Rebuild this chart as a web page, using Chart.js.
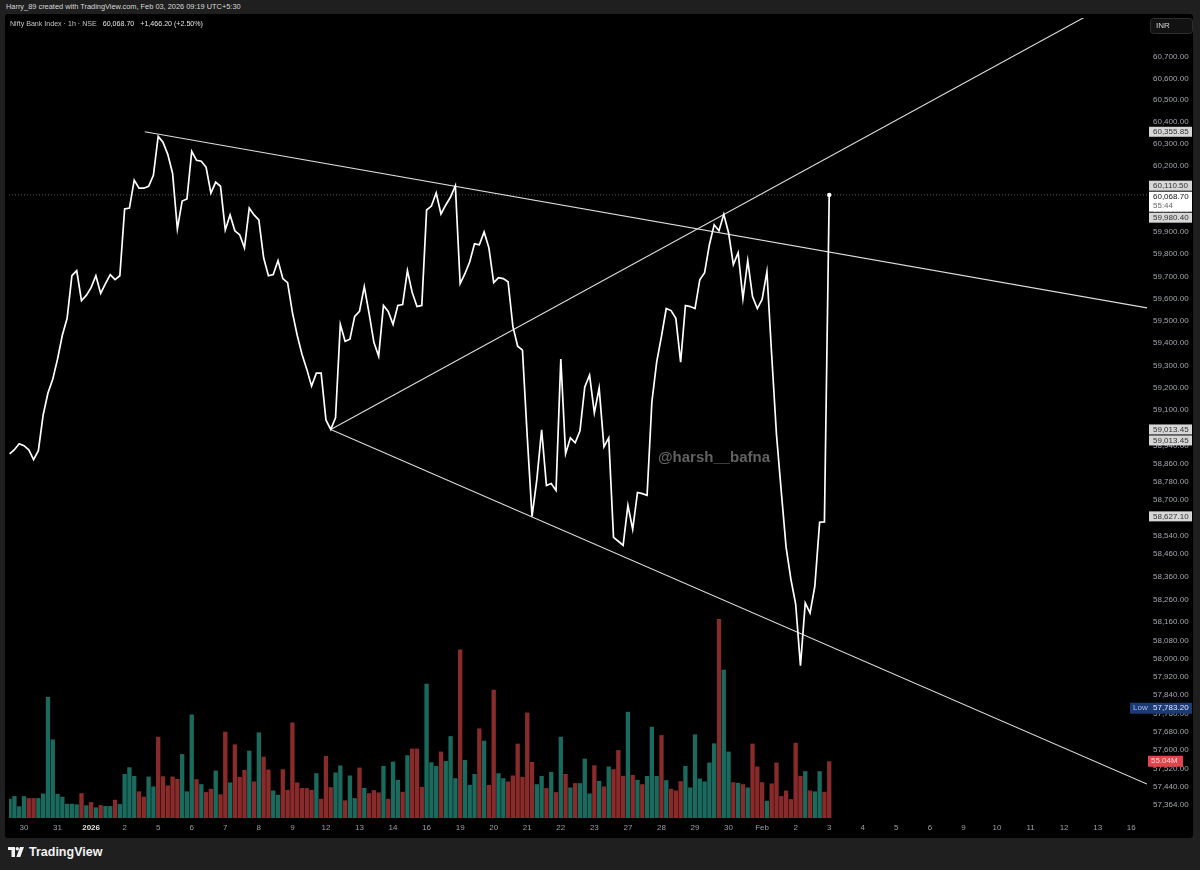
<!DOCTYPE html>
<html lang="en">
<head>
<meta charset="UTF-8">
<title>Nifty Bank Index · 1h · NSE</title>
<style>
  body {
    margin: 0;
    width: 1200px;
    height: 870px;
    background: #1f1f1f;
    font-family: "Liberation Sans", Arial, sans-serif;
    position: relative;
    overflow: hidden;
  }
  .credit {
    position: absolute; left: 6px; top: 2px;
    font-size: 7.4px; color: #d8d8d8; white-space: nowrap;
  }
  .panel {
    position: absolute; left: 5px; top: 14px;
    width: 1188px; height: 824px;
    background: #000; border-radius: 3px; overflow: hidden;
  }
  .legend {
    position: absolute; left: 10px; top: 20px;
    font-size: 7.1px; color: #c4c4c4; white-space: nowrap;
  }
  .legend b { font-weight: normal; color: #e6e6e6; margin-left: 4px; }
  .brand {
    position: absolute; left: 8px; top: 845px;
    display: flex; align-items: center; gap: 5px;
    color: #f2f2f2; font-size: 12.5px; font-weight: bold;
  }
</style>
</head>
<body>

<div class="credit">Harry_89 created with TradingView.com, Feb 03, 2026 09:19 UTC+5:30</div>

<div class="panel">
  <canvas id="chart" width="1188" height="824"></canvas>
</div>

<div class="legend">Nifty Bank Index · 1h · NSE <b>60,068.70</b> <b>+1,466.20 (+2.50%)</b></div>

<div class="brand">
  <svg width="16" height="10" viewBox="0 0 16 10">
    <rect x="0" y="0" width="7" height="3" fill="#f2f2f2"/>
    <rect x="3.5" y="0" width="3.5" height="10" fill="#f2f2f2"/>
    <circle cx="9.3" cy="1.7" r="1.7" fill="#f2f2f2"/>
    <polygon points="12,0 16,0 12.3,10 8.3,10" fill="#f2f2f2"/>
  </svg>
  <span>TradingView</span>
</div>

<script src="https://cdn.jsdelivr.net/npm/chart.js"></script>
<script>
    // hourly closes, Dec 29 (last 3 bars) .. Feb 3 (first bar)
    const closes = [
        58905, 58923, 58950, 58941, 58923, 58879, 58919, 59078, 59176, 59238,
        59328, 59435, 59511, 59703, 59726, 59591, 59614, 59649, 59703, 59623,
        59667, 59708, 59685, 59703, 60005, 60009, 60136, 60099, 60099, 60108,
        60158, 60335, 60308, 60253, 60167, 59915, 60041, 60050, 60267, 60226,
        60222, 60194, 60077, 60127, 60108, 59910, 59978, 59906, 59888, 59829,
        60009, 59978, 59955, 59784, 59703, 59708, 59771, 59690, 59672, 59538,
        59435, 59350, 59283, 59207, 59265, 59265, 59056, 59013.45, 59065, 59484,
        59408, 59417, 59520, 59542, 59654, 59533, 59403, 59341, 59569, 59542,
        59484, 59569, 59573, 59726, 59627, 59564, 59569, 60000, 60018, 60077,
        59982, 60023, 60059, 60110.5, 59667, 59712, 59766, 59847, 59843, 59901,
        59829, 59672, 59694, 59690, 59676, 59475, 59386, 59368, 58981, 58627.1,
        58790, 59012, 58764, 58773, 58742, 59328, 58905, 58976, 58954, 59007,
        59203, 59256, 59087, 59198, 58936, 58976, 58534, 58517, 58499, 58676,
        58570, 58733, 58728, 58720, 59136, 59314, 59430, 59555, 59546, 59511,
        59314, 59569, 59564, 59555, 59685, 59717, 59843, 59933, 59906, 59980.4,
        59897, 59753, 59807, 59600, 59771, 59609, 59555, 59596, 59721, 59345,
        58990, 58737, 58491, 58350, 58240, 57969, 58245, 58201, 58319, 58601,
        58602.5, 60068.7
    ];

    // volume in millions
    const volumes = [
        18.6, 21.2, 11.3, 21.2, 19.3, 19.3, 19.3, 23.8, 117.4, 76.2,
        23.4, 20.6, 13.8, 13.8, 13.2, 24.1, 12.3, 15.4, 10.3, 12.5,
        11.6, 11.6, 17.7, 13.5, 42.7, 49.2, 40.8, 25.8, 20.6, 40.2,
        30.6, 78.8, 40.5, 31.6, 40.2, 37.9, 62.0, 25.8, 100.4, 37.6,
        32.8, 25.1, 28.3, 46.0, 22.9, 83.7, 34.5, 71.4, 39.9, 46.6,
        65.3, 35.4, 83.0, 59.5, 47.0, 26.7, 22.5, 47.3, 27.3, 92.6,
        34.5, 29.0, 29.0, 27.3, 43.4, 18.6, 60.1, 29.9, 44.1, 50.9,
        17.1, 41.2, 19.3, 48.9, 29.2, 24.1, 27.0, 24.8, 50.5, 18.6,
        54.7, 37.0, 25.4, 60.8, 67.3, 67.3, 30.2, 130.3, 54.0, 50.5,
        64.4, 55.3, 79.4, 38.6, 163.4, 56.3, 32.1, 42.7, 86.9, 75.0,
        32.1, 124.5, 43.4, 38.6, 35.4, 41.2, 72.1, 39.9, 102.3, 54.3,
        32.8, 40.8, 29.0, 44.7, 25.1, 78.8, 42.7, 29.6, 33.8, 33.8,
        57.6, 23.8, 51.1, 36.0, 30.6, 49.9, 47.3, 65.9, 40.8, 103.0,
        41.8, 37.0, 32.8, 40.8, 88.5, 40.8, 80.4, 36.7, 28.3, 26.7,
        35.7, 50.5, 29.6, 81.1, 38.3, 35.4, 53.8, 72.4, 193.0, 143.8,
        64.4, 34.7, 34.1, 32.8, 29.6, 72.1, 49.9, 34.7, 16.7, 33.5,
        53.8, 21.2, 26.7, 18.3, 73.0, 40.8, 45.4, 26.7, 25.8, 45.4,
        25.4, 55.04
    ];

    // 1 = up candle (teal), 0 = down candle (red)
    const volumeUp = [
        1, 1, 1, 1, 0, 0, 1, 1, 1, 1,
        1, 1, 1, 1, 1, 0, 1, 0, 1, 0,
        1, 1, 0, 1, 1, 1, 1, 0, 0, 1,
        1, 0, 0, 0, 0, 0, 1, 1, 1, 0,
        1, 0, 0, 1, 0, 0, 1, 0, 0, 0,
        1, 0, 1, 0, 0, 1, 1, 0, 0, 0,
        0, 0, 0, 0, 1, 0, 0, 0, 1, 1,
        0, 1, 1, 0, 1, 0, 0, 0, 1, 0,
        1, 1, 0, 1, 0, 0, 0, 1, 1, 1,
        0, 1, 1, 1, 0, 1, 1, 1, 0, 1,
        0, 0, 1, 1, 0, 0, 0, 0, 0, 0,
        1, 1, 0, 1, 0, 1, 0, 1, 0, 1,
        1, 1, 0, 1, 0, 1, 0, 0, 0, 1,
        0, 1, 0, 1, 1, 1, 0, 1, 0, 0,
        0, 1, 1, 1, 1, 1, 1, 1, 0, 1,
        1, 0, 1, 0, 1, 0, 0, 0, 1, 0,
        0, 0, 0, 0, 0, 0, 1, 0, 1, 1,
        0, 0
    ];

    // day labels on the time axis (first bar of each session, 7 bars a day)
    const dayLabels = ['30', '31', '2026', '2', '5', '6', '7', '8', '9', '12', '13', '14', '16',
        '19', '20', '21', '22', '23', '27', '28', '29', '30', 'Feb', '2', '3',
        '4', '5', '6', '9', '10', '11', '12', '13', '16'];

    const priceTicks = [60700, 60600, 60500, 60400, 60300, 60200, 60100, 60000, 59900, 59800,
        59700, 59600, 59500, 59400, 59300, 59200, 59100, 58940, 58860, 58780, 58700,
        58540, 58460, 58360, 58260, 58160, 58080, 58000, 57920, 57840, 57760, 57680,
        57600, 57520, 57440, 57364];

    // drawn trend lines: [bar index, price]
    const upperLine = [[28.2, 60355.85], [237.3, 59558]];
    const lowerLine = [[67, 59013.45], [237.3, 57453]];
    const risingLine = [[67, 59013.45], [237.3, 61038]];

    const lastPrice = 60068.70;
    const countdown = '55:44';
    const axisTags = [60355.85, 60110.50, 59980.40, 59013.45, 59013.45, 58627.10];
    const lowPrice = 57783.20;
    const lastVolumeText = '55.04M';

    const X_MIN = -0.125, X_MAX = 237.3;
    const UP = '#1a6a5e', DOWN = '#8a2b2b';
    const FONT = '"Liberation Sans", Arial, sans-serif';

    const fmt = v => v.toLocaleString('en-US', {minimumFractionDigits: 2, maximumFractionDigits: 2});
    const seg = pts => pts.map(p => ({x: p[0], y: p[1]}));

    const overlay = {
        id: 'overlay',
        beforeDatasetsDraw(chart) {
            const ctx = chart.ctx;
            ctx.save();
            ctx.font = 'bold 15px ' + FONT;
            ctx.fillStyle = '#626262';
            ctx.textAlign = 'center';
            ctx.textBaseline = 'middle';
            ctx.fillText('@harsh__bafna', 709, 444);
            ctx.restore();
        },
        afterDraw(chart) {
            const ctx = chart.ctx;
            const y = chart.scales.y;
            const yv = chart.scales.yVol;
            const left = 1144, w = 43;
            ctx.save();
            ctx.font = '8px ' + FONT;
            ctx.textBaseline = 'middle';
            ctx.textAlign = 'left';

            // INR button
            ctx.fillStyle = '#121212';
            ctx.strokeStyle = '#2e2e2e';
            ctx.beginPath();
            ctx.roundRect(1145.5, 4.5, 42, 15, 3);
            ctx.fill();
            ctx.stroke();
            ctx.fillStyle = '#d6d6d6';
            ctx.fillText('INR', 1151, 12);

            // price tags, pushed down when they collide
            const tags = axisTags.map(v => ({v, h: 10, last: false}));
            tags.push({v: lastPrice, h: 20, last: true});
            tags.sort((a, b) => b.v - a.v);
            let prevBottom = -100;
            tags.forEach(t => {
                const py = y.getPixelForValue(t.v);
                let top = Math.max(py - 5, prevBottom + 1);
                if (t.last) {
                    ctx.fillStyle = '#ffffff';
                    ctx.fillRect(left, top, w, t.h);
                    ctx.fillStyle = '#111';
                    ctx.fillText(fmt(t.v), left + 4, top + 5.5);
                    ctx.fillStyle = '#666';
                    ctx.fillText(countdown, left + 4, top + 14.5);
                } else {
                    ctx.fillStyle = '#d6d6d6';
                    ctx.fillRect(left, top, w, t.h);
                    ctx.fillStyle = '#333';
                    ctx.fillText(fmt(t.v), left + 4, top + 5.5);
                }
                prevBottom = top + t.h;
            });

            // session low
            const ly = y.getPixelForValue(lowPrice);
            ctx.fillStyle = '#1c3a74';
            ctx.fillRect(1125, ly - 5.5, 62, 11);
            ctx.fillStyle = '#a9bbe6';
            ctx.fillText('Low', 1128, ly);
            ctx.fillStyle = '#dbe4fb';
            ctx.fillText(fmt(lowPrice), left + 4, ly);

            // last volume
            const vy = yv.getPixelForValue(volumes[volumes.length - 1]);
            ctx.fillStyle = '#e3434b';
            ctx.fillRect(left - 1, vy - 5.5, 35, 11);
            ctx.fillStyle = '#ffd6d8';
            ctx.fillText(lastVolumeText, left + 2, vy);
            ctx.restore();
        }
    };

    const config = {
        type: 'line',
        data: {
            datasets: [
                {
                    data: seg(upperLine),
                    borderColor: '#dcdcdc', borderWidth: 1.1, pointRadius: 0, order: 2
                },
                {
                    data: seg(lowerLine),
                    borderColor: '#dcdcdc', borderWidth: 1.1, pointRadius: 0, order: 2
                },
                {
                    data: seg(risingLine),
                    borderColor: '#dcdcdc', borderWidth: 1.1, pointRadius: 0, order: 2
                },
                {
                    data: [{x: X_MIN, y: lastPrice}, {x: X_MAX, y: lastPrice}],
                    borderColor: 'rgba(255,255,255,0.35)', borderWidth: 1,
                    borderDash: [1, 2], pointRadius: 0, order: 3
                },
                {
                    data: closes.map((c, i) => ({x: i, y: c})),
                    borderColor: '#ffffff', borderWidth: 1.7, tension: 0,
                    pointRadius: ctx => ctx.dataIndex === closes.length - 1 ? 2.2 : 0,
                    pointBackgroundColor: '#ffffff', pointBorderWidth: 0,
                    order: 1
                },
                {
                    type: 'bar',
                    yAxisID: 'yVol',
                    data: volumes.map((v, i) => ({x: i, y: v})),
                    backgroundColor: volumeUp.map(u => u ? UP : DOWN),
                    borderWidth: 0,
                    barPercentage: 0.9,
                    categoryPercentage: 1,
                    order: 10
                }
            ]
        },
        options: {
            responsive: false,
            animation: false,
            events: [],
            layout: { padding: 0 },
            plugins: {
                legend: { display: false },
                tooltip: { enabled: false }
            },
            scales: {
                x: {
                    type: 'linear',
                    position: 'bottom',
                    min: X_MIN,
                    max: X_MAX,
                    offset: false,
                    bounds: 'data',
                    grid: { display: false, drawTicks: false, offset: false },
                    border: { display: false },
                    afterBuildTicks: s => { s.ticks = dayLabels.map((_, k) => ({value: 3 + 7 * k})); },
                    afterFit: s => { s.height = 20; s.paddingLeft = 0; s.paddingRight = 0; },
                    ticks: {
                        autoSkip: false,
                        maxRotation: 0,
                        padding: 5,
                        color: ctx => ctx.index === 2 ? '#e0e0e0' : '#9b9ea6',
                        font: ctx => ({ family: FONT, size: 8, weight: ctx.index === 2 ? 'bold' : 'normal' }),
                        callback: v => dayLabels[Math.round((v - 3) / 7)]
                    }
                },
                y: {
                    type: 'logarithmic',
                    position: 'right',
                    min: 57306,
                    max: 60877,
                    bounds: 'data',
                    grid: { display: false, drawTicks: false },
                    border: { display: false },
                    afterBuildTicks: s => { s.ticks = priceTicks.map(v => ({value: v})); },
                    afterFit: s => { s.width = 46; s.paddingTop = 0; s.paddingBottom = 0; },
                    ticks: {
                        autoSkip: false,
                        padding: 6,
                        color: '#a3a6ad',
                        font: { family: FONT, size: 8 },
                        callback: v => fmt(v)
                    }
                },
                yVol: {
                    axis: 'y',
                    type: 'linear',
                    display: false,
                    min: 0,
                    max: 776,
                    bounds: 'data'
                }
            }
        },
        plugins: [overlay]
    };

    const priceChart = new Chart(document.getElementById('chart'), config);
</script>
</body>
</html>
